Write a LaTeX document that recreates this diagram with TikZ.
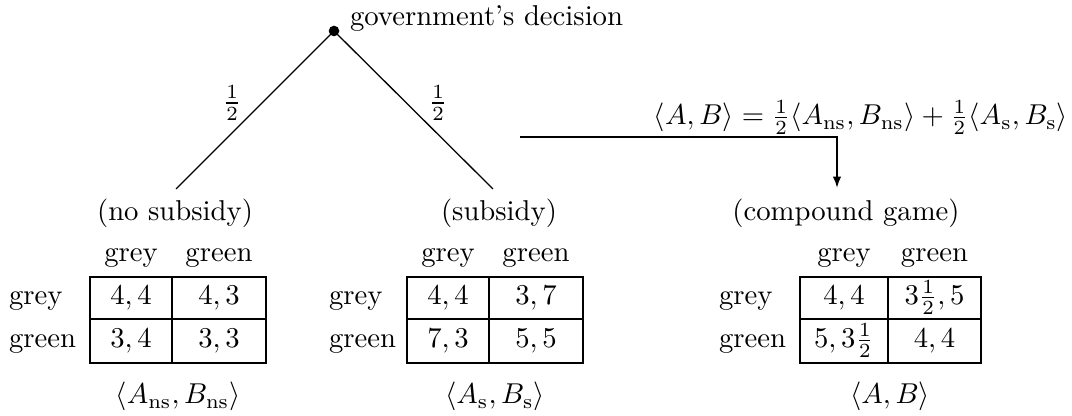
\documentclass[tikz,border=0pt]{standalone}
\usetikzlibrary{arrows.meta}
\begin{document}
\begin{tikzpicture}[x=0.3484pt,y=-0.3484pt,
  every node/.style={inner sep=0pt,outer sep=0pt},
  branch/.style={line width=0.45pt},
  flow/.style={line width=0.7pt,-{Latex[length=4pt,width=3pt]}},
  cell/.style={draw,line width=0.7pt,text height=6.5pt,text depth=1.9pt,align=center},
  narrowA/.style={cell,minimum width=28.6pt},
  wideA/.style={cell,minimum width=32.8pt},
  rowA/.style={minimum height=14.6pt},
  rowB/.style={minimum height=15.3pt},
  lbl/.style={anchor=base},
  rowlbl/.style={anchor=base west}]
\useasboundingbox (0,0) rectangle (1072,416);

% tree
\coordinate (nsend) at (176,189);
\coordinate (send) at (493,189);
\draw[branch] (334,31) coordinate (rootc) -- (nsend);
\draw[branch] (rootc) -- (send);
\node[circle,fill,minimum size=3.7pt] (root) at (rootc) {};
\node[anchor=base west] (gov) at (350,26) {government's decision};
\node (pl) at (232,103) {$\frac12$};
\node (pr) at (438,103) {$\frac12$};

% arrow and formula
\coordinate (astart) at (520,137);
\coordinate (aend) at (837,188);
\draw[flow] (astart) -| (aend);
\node[anchor=base east] (formula) at (1068,125) {$\langle A,B\rangle = \frac12\langle A_{\mathrm{ns}},B_{\mathrm{ns}}\rangle + \frac12\langle A_{\mathrm{s}},B_{\mathrm{s}}\rangle$};

% titles
\node[lbl] (tns) at (175,221) {(no subsidy)};
\node[lbl] (ts) at (499,221) {(subsidy)};
\node[lbl] (tc) at (846,221) {(compound game)};

% left table
\node[lbl] (hns1) at (131,262) {grey};
\node[lbl] (hns2) at (219,262) {green};
\node[narrowA,rowA] (ns11) at (131,298) {$4,4$};
\node[wideA,rowA] (ns12) at (219,298) {$4,3$};
\node[narrowA,rowB] (ns21) at (131,341) {$3,4$};
\node[wideA,rowB] (ns22) at (219,341) {$3,3$};
\node[rowlbl] (rns1) at (9,304.5) {grey};
\node[rowlbl] (rns2) at (9,347.5) {green};
\node[lbl] (bns) at (178,404) {$\langle A_{\mathrm{ns}},B_{\mathrm{ns}}\rangle$};

% middle table
\node[lbl] (hs1) at (448,262) {grey};
\node[lbl] (hs2) at (536,262) {green};
\node[cell,minimum width=28.4pt,rowA] (s11) at (448,298) {$4,4$};
\node[cell,minimum width=32.8pt,rowA] (s12) at (536,298) {$3,7$};
\node[cell,minimum width=28.4pt,rowB] (s21) at (448,341) {$7,3$};
\node[cell,minimum width=32.8pt,rowB] (s22) at (536,341) {$5,5$};
\node[rowlbl] (rs1) at (329,304.5) {grey};
\node[rowlbl] (rs2) at (329,347.5) {green};
\node[lbl] (bs) at (495,404) {$\langle A_{\mathrm{s}},B_{\mathrm{s}}\rangle$};

% right table
\node[lbl] (hc1) at (844,262) {grey};
\node[lbl] (hc2) at (934.5,262) {green};
\node[cell,minimum width=30.7pt,rowA] (c11) at (844,298) {$4,4$};
\node[cell,minimum width=32.4pt,rowA] (c12) at (934.5,298) {$3\frac12,5$};
\node[cell,minimum width=30.7pt,rowB] (c21) at (844,341) {$5,3\frac12$};
\node[cell,minimum width=32.4pt,rowB] (c22) at (934.5,341) {$4,4$};
\node[rowlbl] (rc1) at (719,304.5) {grey};
\node[rowlbl] (rc2) at (719,347.5) {green};
\node[lbl] (bc) at (890,404) {$\langle A,B\rangle$};
\end{tikzpicture}
\end{document}
